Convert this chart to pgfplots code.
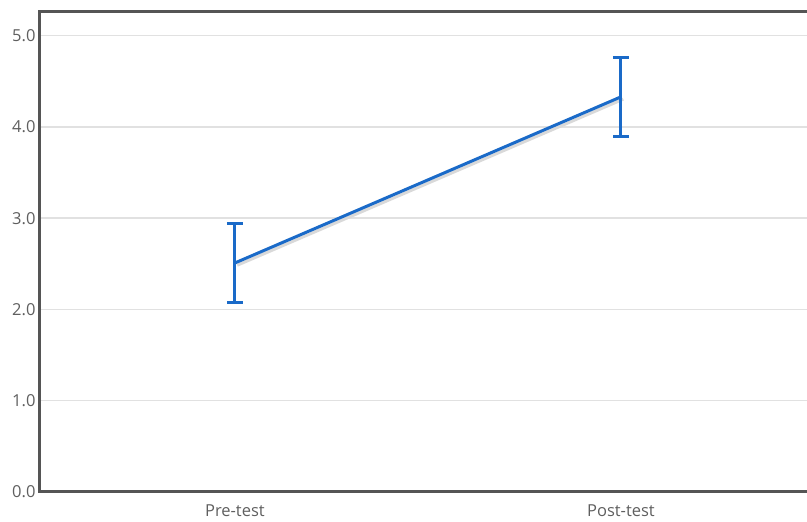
\documentclass[border=0pt]{standalone}
\usepackage{pgfplots}
\pgfplotsset{compat=1.18}
\usepackage{fontspec}
\setmainfont{Open Sans}
\definecolor{lineblue}{RGB}{26,106,200}
\definecolor{axisgray}{RGB}{85,85,85}
\definecolor{gridgray}{RGB}{225,225,225}
\definecolor{labelgray}{RGB}{95,95,95}
\begin{document}
\begin{tikzpicture}[x=1pt,y=1pt]
\begin{axis}[
  at={(0,0)}, anchor=south west,
  scale only axis, width=767pt, height=480pt,
  xmin=-0.505, xmax=1.482,
  ymin=0, ymax=5.26,
  xtick={0,1}, xticklabels={Pre-test,Post-test},
  ytick={0,1,2,3,4,5},
  yticklabel={\pgfmathprintnumber[fixed,fixed zerofill,precision=1]{\tick}},
  /pgf/number format/assume math mode=true,
  ymajorgrids, grid style={gridgray, line width=1.5pt},
  axis line style={draw=none},
  major tick length=0pt,
  tick label style={font=\fontsize{16.5}{19}\selectfont, text=labelgray},
  yticklabel style={xshift=-1pt},
  xticklabel style={yshift=-9pt},
  clip=false,
]
\draw[axisgray, line width=3pt] (rel axis cs:1.02,1) -- (rel axis cs:0,1) -- (rel axis cs:0,0) -- (rel axis cs:1.02,0);
\addplot[black!15, line width=3pt, forget plot] coordinates {(0.006,2.485) (1.006,4.305)};
\addplot[lineblue, line width=3pt, mark=none,
  error bars/.cd, y dir=both, y explicit,
  error bar style={line width=3pt, lineblue},
  error mark options={rotate=90, mark size=8pt, line width=3pt, lineblue}]
  coordinates {(0,2.51) +- (0,0.43) (1,4.33) +- (0,0.43)};
\end{axis}
\pgfresetboundingbox
\path (-40,-30) rectangle (767,492);
\end{tikzpicture}
\end{document}
